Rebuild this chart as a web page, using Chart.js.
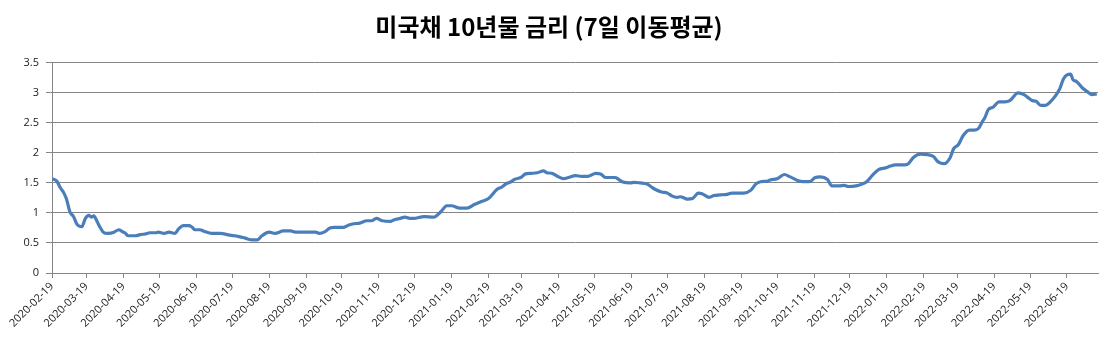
<!DOCTYPE html>
<html>
<head>
<meta charset="utf-8">
<script src="https://cdn.jsdelivr.net/npm/chart.js@4/dist/chart.umd.min.js"></script>
<style>
  body { margin: 0; background: #fff; }
</style>
</head>
<body>
<canvas id="myChart" width="1120" height="352"></canvas>
<script>
const chartTitle = "미국채 10년물 금리 (7일 이동평균)";

// monthly tick labels on the x axis
const tickLabels = [
  "2020-02-19", "2020-03-19", "2020-04-19", "2020-05-19", "2020-06-19", "2020-07-19",
  "2020-08-19", "2020-09-19", "2020-10-19", "2020-11-19", "2020-12-19", "2021-01-19",
  "2021-02-19", "2021-03-19", "2021-04-19", "2021-05-19", "2021-06-19", "2021-07-19",
  "2021-08-19", "2021-09-19", "2021-10-19", "2021-11-19", "2021-12-19", "2022-01-19",
  "2022-02-19", "2022-03-19", "2022-04-19", "2022-05-19", "2022-06-19",
];

// dates
const dates = [
  "2020-02-19", "2020-02-23", "2020-02-26", "2020-02-29", "2020-03-02", "2020-03-05",
  "2020-03-08", "2020-03-11", "2020-03-15", "2020-03-18", "2020-03-21", "2020-03-23",
  "2020-03-25", "2020-03-28", "2020-03-30", "2020-04-02", "2020-04-06", "2020-04-11",
  "2020-04-15", "2020-04-18", "2020-04-20", "2020-04-23", "2020-04-29", "2020-05-03",
  "2020-05-07", "2020-05-11", "2020-05-16", "2020-05-18", "2020-05-23", "2020-05-27",
  "2020-06-01", "2020-06-04", "2020-06-08", "2020-06-13", "2020-06-15", "2020-06-18",
  "2020-06-22", "2020-06-26", "2020-07-02", "2020-07-09", "2020-07-17", "2020-07-24",
  "2020-07-30", "2020-08-05", "2020-08-09", "2020-08-13", "2020-08-19", "2020-08-24",
  "2020-08-31", "2020-09-06", "2020-09-10", "2020-09-20", "2020-09-27", "2020-09-30",
  "2020-10-05", "2020-10-09", "2020-10-13", "2020-10-20", "2020-10-25", "2020-10-29",
  "2020-11-03", "2020-11-09", "2020-11-13", "2020-11-17", "2020-11-22", "2020-11-29",
  "2020-12-01", "2020-12-07", "2020-12-11", "2020-12-15", "2020-12-18", "2020-12-27",
  "2021-01-04", "2021-01-10", "2021-01-15", "2021-01-19", "2021-01-26", "2021-02-01",
  "2021-02-07", "2021-02-13", "2021-02-19", "2021-02-26", "2021-03-02", "2021-03-06",
  "2021-03-09", "2021-03-13", "2021-03-18", "2021-03-22", "2021-03-27", "2021-04-01",
  "2021-04-06", "2021-04-09", "2021-04-13", "2021-04-17", "2021-04-23", "2021-04-27",
  "2021-05-03", "2021-05-08", "2021-05-13", "2021-05-20", "2021-05-24", "2021-05-28",
  "2021-06-05", "2021-06-08", "2021-06-11", "2021-06-18", "2021-06-21", "2021-06-26",
  "2021-07-02", "2021-07-05", "2021-07-09", "2021-07-14", "2021-07-19", "2021-07-23",
  "2021-07-27", "2021-07-30", "2021-08-02", "2021-08-05", "2021-08-09", "2021-08-14",
  "2021-08-17", "2021-08-23", "2021-08-27", "2021-09-01", "2021-09-07", "2021-09-11",
  "2021-09-21", "2021-09-27", "2021-10-01", "2021-10-05", "2021-10-11", "2021-10-13",
  "2021-10-19", "2021-10-25", "2021-10-30", "2021-11-05", "2021-11-10", "2021-11-15",
  "2021-11-20", "2021-11-24", "2021-11-30", "2021-12-04", "2021-12-10", "2021-12-14",
  "2021-12-18", "2021-12-24", "2021-12-29", "2022-01-02", "2022-01-07", "2022-01-12",
  "2022-01-18", "2022-01-22", "2022-01-26", "2022-02-02", "2022-02-06", "2022-02-10",
  "2022-02-16", "2022-02-22", "2022-02-27", "2022-03-03", "2022-03-08", "2022-03-13",
  "2022-03-16", "2022-03-20", "2022-03-24", "2022-03-29", "2022-04-02", "2022-04-06",
  "2022-04-09", "2022-04-11", "2022-04-14", "2022-04-18", "2022-04-23", "2022-04-28",
  "2022-05-02", "2022-05-09", "2022-05-14", "2022-05-18", "2022-05-21", "2022-05-24",
  "2022-05-28", "2022-06-01", "2022-06-05", "2022-06-09", "2022-06-13", "2022-06-16",
  "2022-06-19", "2022-06-22", "2022-06-24", "2022-06-27", "2022-07-02", "2022-07-06",
  "2022-07-10", "2022-07-14",
];

// 10y treasury yield, 7-day moving average (%)
const rates = [
  1.57, 1.53, 1.42, 1.33, 1.24, 1.02,
  0.94, 0.81, 0.77, 0.91, 0.96, 0.93,
  0.95, 0.85, 0.77, 0.68, 0.66, 0.68,
  0.72, 0.69, 0.67, 0.62, 0.62, 0.64,
  0.65, 0.67, 0.67, 0.68, 0.66, 0.68,
  0.66, 0.73, 0.79, 0.79, 0.77, 0.72,
  0.72, 0.69, 0.66, 0.66, 0.63, 0.61,
  0.58, 0.55, 0.55, 0.62, 0.68, 0.66,
  0.70, 0.70, 0.68, 0.68, 0.68, 0.66,
  0.69, 0.75, 0.76, 0.76, 0.80, 0.82,
  0.83, 0.87, 0.87, 0.91, 0.87, 0.86,
  0.88, 0.91, 0.93, 0.91, 0.91, 0.94,
  0.93, 1.02, 1.12, 1.12, 1.08, 1.08,
  1.14, 1.19, 1.24, 1.39, 1.43, 1.49,
  1.51, 1.56, 1.59, 1.65, 1.66, 1.67,
  1.70, 1.67, 1.66, 1.62, 1.57, 1.59,
  1.62, 1.61, 1.61, 1.66, 1.65, 1.59,
  1.59, 1.56, 1.52, 1.50, 1.51, 1.50,
  1.48, 1.44, 1.39, 1.35, 1.33, 1.28,
  1.26, 1.27, 1.25, 1.23, 1.24, 1.33,
  1.32, 1.26, 1.29, 1.30, 1.31, 1.33,
  1.33, 1.38, 1.48, 1.52, 1.53, 1.55,
  1.57, 1.64, 1.60, 1.54, 1.52, 1.52,
  1.59, 1.60, 1.56, 1.45, 1.45, 1.46,
  1.44, 1.45, 1.48, 1.52, 1.63, 1.72,
  1.75, 1.78, 1.80, 1.80, 1.82, 1.92,
  1.98, 1.97, 1.94, 1.85, 1.82, 1.92,
  2.07, 2.14, 2.29, 2.38, 2.38, 2.41,
  2.52, 2.58, 2.72, 2.76, 2.85, 2.85,
  2.87, 3.00, 2.97, 2.91, 2.87, 2.86,
  2.79, 2.79, 2.85, 2.94, 3.07, 3.23,
  3.30, 3.31, 3.22, 3.19, 3.08, 3.02,
  2.97, 2.98,
];

const yTicks = [0, 0.5, 1, 1.5, 2, 2.5, 3, 3.5];

// days since the first date
const day = (s) => (Date.parse(s) - Date.parse(dates[0])) / 864e5;

const gridColor = "#868686";
const textColor = "#1a1a1a";

const ctx = document.getElementById("myChart").getContext("2d");

const config = {
  type: "line",
  data: {
    datasets: [
      {
        label: "금리",
        data: dates.map((d, i) => ({ x: day(d), y: rates[i] })),
        borderColor: "#4a7ebb",
        borderWidth: 3.2,
        pointRadius: 0,
        cubicInterpolationMode: "monotone",
        fill: false,
      },
    ],
  },
  options: {
    responsive: false,
    animation: false,
    layout: { padding: { right: 22, left: 0, bottom: 0 } },
    plugins: {
      legend: { display: false },
      tooltip: { enabled: false },
      title: {
        display: true,
        text: chartTitle,
        color: "#000",
        font: { family: "'Noto Sans CJK KR', 'Noto Sans', sans-serif", size: 24, weight: "bold", lineHeight: 1.2 },
        padding: { top: 12, bottom: 22 },
      },
    },
    scales: {
      x: {
        type: "linear",
        bounds: "data",
        min: 0,
        max: day(dates[dates.length - 1]) + 1,
        afterBuildTicks: (scale) => {
          scale.ticks = tickLabels.map((s) => ({ value: day(s) }));
        },
        afterFit: (scale) => {
          scale.height = 79;
        },
        ticks: {
          autoSkip: false,
          maxRotation: 45,
          minRotation: 45,
          padding: 2,
          color: textColor,
          font: { family: "'Open Sans', sans-serif", size: 11 },
          callback: (v, i) => tickLabels[i],
        },
        grid: { drawOnChartArea: false, drawTicks: true, tickLength: 5, color: gridColor },
        border: { display: true, color: gridColor },
      },
      y: {
        min: 0,
        max: 3.5,
        afterBuildTicks: (scale) => {
          scale.ticks = yTicks.map((v) => ({ value: v }));
        },
        afterFit: (scale) => {
          scale.width = 52;
        },
        ticks: {
          padding: 7,
          color: textColor,
          font: { family: "'Open Sans', sans-serif", size: 11 },
          callback: (v) => String(v),
        },
        grid: { color: gridColor, tickLength: 6 },
        border: { display: true, color: gridColor },
      },
    },
  },
};

let myChart = new Chart(ctx, config);
</script>
</body>
</html>
